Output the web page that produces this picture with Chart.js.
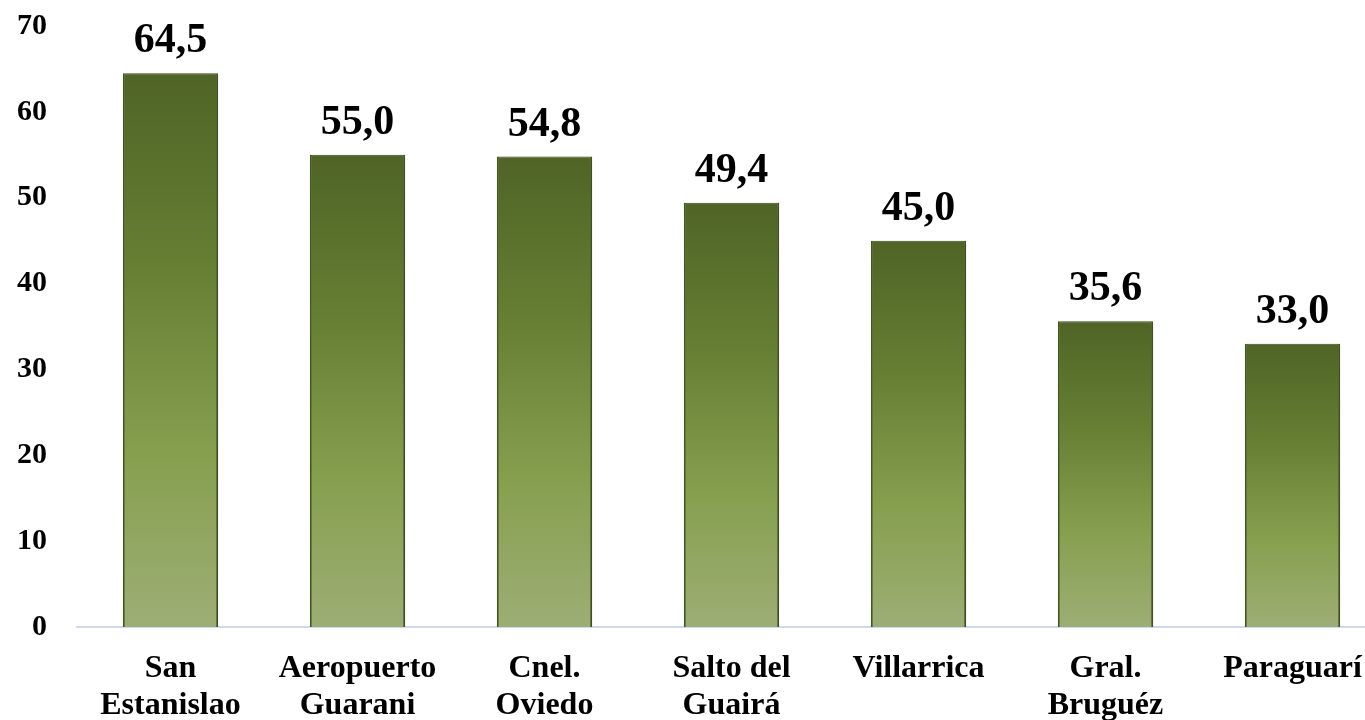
<!DOCTYPE html>
<html><head><meta charset="utf-8">
<script src="https://cdn.jsdelivr.net/npm/chart.js@4/dist/chart.umd.min.js"></script>
<style>
html,body{margin:0;padding:0;background:#fff;overflow:hidden;}
#wrap{width:1390px;height:720px;position:relative;}
</style></head>
<body>
<div id="wrap"><canvas id="c"></canvas></div>
<script>
const categories = [["San","Estanislao"],["Aeropuerto","Guarani"],["Cnel.","Oviedo"],["Salto del","Guairá"],["Villarrica"],["Gral.","Bruguéz"],["Paraguarí"]];
const values = [64.5, 55.0, 54.8, 49.4, 45.0, 35.6, 33.0];
const yTicks = [0,10,20,30,40,50,60,70];

const FONT = "'Liberation Serif', 'Times New Roman', serif";

function barGradient(ctx){
  const chart = ctx.chart;
  if(!chart.chartArea || !chart.scales.y) return '#6b8638';
  const y = chart.scales.y;
  const v = ctx.raw;
  const top = y.getPixelForValue(v), bot = y.getPixelForValue(0);
  const g = chart.ctx.createLinearGradient(0, top, 0, bot);
  g.addColorStop(0, '#4f6426');
  g.addColorStop(0.35, '#667f33');
  g.addColorStop(0.7, '#87a050');
  g.addColorStop(1, '#9dae75');
  return g;
}

const labelPlugin = {
  id:'valLabels',
  afterDatasetsDraw(chart){
    const c = chart.ctx;
    const meta = chart.getDatasetMeta(0);
    c.save();
    c.font = "bold 42px " + FONT;
    c.fillStyle = '#000';
    c.textAlign = 'center';
    c.textBaseline = 'alphabetic';
    meta.data.forEach((el,i)=>{
      c.fillText(values[i].toFixed(1).replace('.',','), el.x, el.y - 21);
    });
    c.restore();
  }
};

const shadowPlugin = {
  id:'barShadow',
  beforeDatasetsDraw(chart){
    const c = chart.ctx;
    c.save();
    c.shadowColor = 'rgba(0,0,0,0.25)';
    c.shadowBlur = 4;
    c.shadowOffsetX = 1;
    c.shadowOffsetY = 1;
  },
  afterDatasetsDraw(chart){
    chart.ctx.restore();
  }
};

new Chart(document.getElementById('c'), {
  type:'bar',
  data:{
    labels: categories,
    datasets:[{
      data: values,
      backgroundColor: barGradient,
      borderColor: '#465a1f',
      borderWidth: {left:2, right:2, top:1, bottom:0},
      barPercentage: 0.51,
      categoryPercentage: 1.0
    }]
  },
  options:{
    responsive:true,
    maintainAspectRatio:false,
    animation:false,
    layout:{autoPadding:false, padding:{top:26,left:17,right:4,bottom:0}},
    plugins:{legend:{display:false},tooltip:{enabled:false}},
    scales:{
      x:{
        grid:{display:false, drawTicks:false},
        border:{display:true,color:'#cdd9ee',width:2},
        afterFit(axis){ axis.height = 93; axis.paddingLeft = 0; axis.paddingRight = 0; },
        ticks:{color:'#000',padding:23,maxRotation:0,autoSkip:false,
          font:{family:FONT,weight:'bold',size:32,lineHeight:1.16}}
      },
      y:{
        min:0,max:70,
        afterBuildTicks(axis){ axis.ticks = yTicks.map(v=>({value:v})); },
        afterFit(axis){ axis.width = 60; axis.paddingTop = 0; axis.paddingBottom = 0; },
        grid:{display:false, drawTicks:false},
        border:{display:false},
        ticks:{color:'#000',padding:30,
          font:{family:FONT,weight:'bold',size:30}}
      }
    }
  },
  plugins:[shadowPlugin,labelPlugin]
});
</script>
</body></html>
